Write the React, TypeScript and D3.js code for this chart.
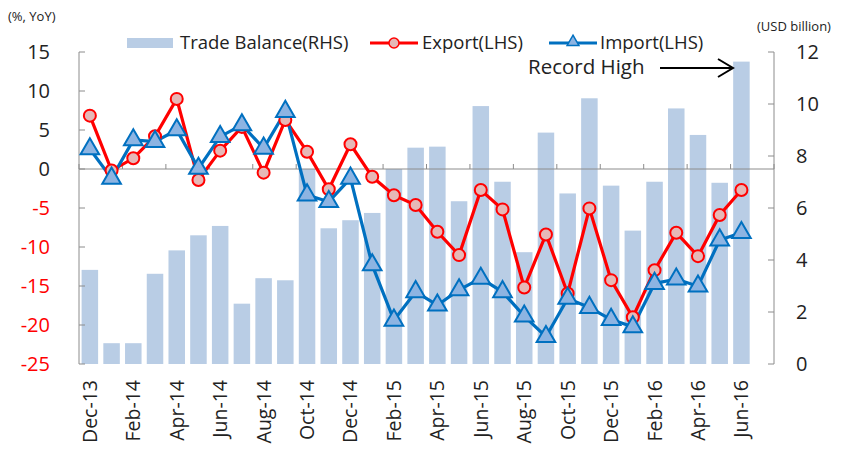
import React from "react";
import * as d3 from "d3";

const months = [
  "Dec-13", "Jan-14", "Feb-14", "Mar-14", "Apr-14", "May-14", "Jun-14", "Jul-14",
  "Aug-14", "Sep-14", "Oct-14", "Nov-14", "Dec-14", "Jan-15", "Feb-15", "Mar-15",
  "Apr-15", "May-15", "Jun-15", "Jul-15", "Aug-15", "Sep-15", "Oct-15", "Nov-15",
  "Dec-15", "Jan-16", "Feb-16", "Mar-16", "Apr-16", "May-16", "Jun-16",
];

// trade balance, USD billion (RHS)
const tradeBalance = [
  3.62, 0.8, 0.8, 3.47, 4.37, 4.95, 5.31, 2.32, 3.3, 3.22, 7.5, 5.22, 5.53, 5.81, 7.5, 8.32,
  8.36, 6.26, 9.92, 7.01, 4.3, 8.9, 6.56, 10.22, 6.86, 5.13, 7.01, 9.83, 8.81, 6.97, 11.63,
];

// % YoY (LHS)
const exportYoY = [
  6.84, -0.2, 1.37, 4.2, 8.99, -1.41, 2.35, 5.4, -0.47, 6.29, 2.22, -2.6, 3.17, -1.0, -3.36, -4.62,
  -8.05, -11.04, -2.7, -5.18, -15.19, -8.39, -15.96, -5.05, -14.25, -19.0, -12.97, -8.17, -11.17, -5.9, -2.7,
];

const importYoY = [
  2.57, -1.2, 3.72, 3.5, 5.0, 0.08, 4.15, 5.65, 2.66, 7.36, -3.34, -4.19, -1.2, -12.3, -19.4, -15.75,
  -17.46, -15.5, -14.03, -15.75, -18.87, -21.5, -16.6, -17.76, -19.3, -20.24, -14.68, -14.12, -15.02, -9.11, -8.17,
];

const leftTicks = [15, 10, 5, 0, -5, -10, -15, -20, -25];
const rightTicks = [12, 10, 8, 6, 4, 2, 0];

const W = 848;
const H = 450;
const margin = { top: 52, right: 74, bottom: 86, left: 79 };
const axisColor = "#8c8c8c";
const font = "'Open Sans', 'Noto Sans', sans-serif";

// one empty slot after Jun-16, like the original sheet
const slots = [...months, ""];

export default function App() {
  const x = d3
    .scaleBand<string>()
    .domain(slots)
    .range([margin.left, W - margin.right])
    .paddingInner(0.24)
    .paddingOuter(0.12);
  const step = x.step();
  const x0 = margin.left;

  const yL = d3.scaleLinear().domain([-25, 15]).range([H - margin.bottom, margin.top]);
  const yR = d3.scaleLinear().domain([0, 12]).range([H - margin.bottom, margin.top]);

  const cx = (i: number) => x0 + (i + 0.5) * step;
  const line = d3
    .line<number>()
    .x((_, i) => cx(i))
    .y((d) => yL(d));

  const tri = d3.symbol().type(d3.symbolTriangle).size(150)();

  const xTicks = d3.range(0, slots.length + 1, 2);
  const right = W - margin.right;

  return (
    <svg width={W} height={H} style={{ position: "absolute", left: 0, top: 0 }} fontFamily={font}>
      <rect width={W} height={H} fill="#fff" />

      {/* bars */}
      {tradeBalance.map((v, i) => (
        <rect
          key={i}
          x={x(months[i])}
          y={yR(v)}
          width={x.bandwidth()}
          height={yR(0) - yR(v)}
          fill="#b9cde5"
        />
      ))}

      {/* axes */}
      <line x1={x0} x2={x0} y1={yL(15)} y2={yL(-25)} stroke={axisColor} />
      <line x1={right} x2={right} y1={yR(12)} y2={yR(0)} stroke={axisColor} />
      <line x1={x0} x2={right} y1={yL(0)} y2={yL(0)} stroke={axisColor} />
      {leftTicks.map((t) => (
        <g key={t}>
          <line x1={x0} x2={x0 + 6} y1={yL(t)} y2={yL(t)} stroke={axisColor} />
          <text x={50} y={yL(t)} dy="0.36em" textAnchor="end" fontSize={20} fill={t < 0 ? "#ff0000" : "#222"}>
            {t}
          </text>
        </g>
      ))}
      {rightTicks.map((t) => (
        <g key={t}>
          <line x1={right - 6} x2={right} y1={yR(t)} y2={yR(t)} stroke={axisColor} />
          <text x={796} y={yR(t)} dy="0.36em" fontSize={20} fill="#222">
            {t}
          </text>
        </g>
      ))}
      {xTicks.map((k) => (
        <line key={k} x1={x0 + k * step} x2={x0 + k * step} y1={yL(0) - 5} y2={yL(0)} stroke={axisColor} />
      ))}
      {months.map((m, i) =>
        i % 2 === 0 ? (
          <text
            key={m}
            transform={`translate(${cx(i) + 7},380) rotate(-90)`}
            textAnchor="end"
            fontSize={19.5}
            fill="#222"
          >
            {m}
          </text>
        ) : null
      )}

      {/* lines */}
      <path d={line(exportYoY) ?? ""} fill="none" stroke="#ff0000" strokeWidth={3.2} />
      <path d={line(importYoY) ?? ""} fill="none" stroke="#0070c0" strokeWidth={3.2} />
      {exportYoY.map((v, i) => (
        <circle key={i} cx={cx(i)} cy={yL(v)} r={6} fill="#e6b8b7" stroke="#ff0000" strokeWidth={2} />
      ))}
      {importYoY.map((v, i) => (
        <path
          key={i}
          d={tri ?? ""}
          transform={`translate(${cx(i)},${yL(v)})`}
          fill="#8db4e2"
          stroke="#0070c0"
          strokeWidth={2}
        />
      ))}

      {/* unit labels */}
      <text x={8} y={21} fontSize={13} fill="#222">(%, YoY)</text>
      <text x={757} y={31} fontSize={13} fill="#222">(USD billion)</text>

      {/* legend */}
      <rect x={127} y={38} width={46} height={10} fill="#b9cde5" />
      <text x={180} y={49} fontSize={18.5} fill="#222">Trade Balance(RHS)</text>
      <line x1={370} x2={418} y1={43} y2={43} stroke="#ff0000" strokeWidth={3} />
      <circle cx={394} cy={43} r={5} fill="#e6b8b7" stroke="#ff0000" strokeWidth={1.5} />
      <text x={422} y={49} fontSize={18.5} fill="#222">Export(LHS)</text>
      <line x1={549} x2={597} y1={43} y2={43} stroke="#0070c0" strokeWidth={3} />
      <path d={d3.symbol().type(d3.symbolTriangle).size(60)() ?? ""} transform="translate(573,42)" fill="#8db4e2" stroke="#0070c0" strokeWidth={1.5} />
      <text x={600} y={49} fontSize={18.5} fill="#222">Import(LHS)</text>

      {/* annotation */}
      <text x={528} y={74} fontSize={20.5} fill="#222">Record High</text>
      <line x1={660} x2={732} y1={68} y2={68} stroke="#000" strokeWidth={2} />
      <path d="M718,59 L733,68 L718,77" fill="none" stroke="#000" strokeWidth={2} />
    </svg>
  );
}
